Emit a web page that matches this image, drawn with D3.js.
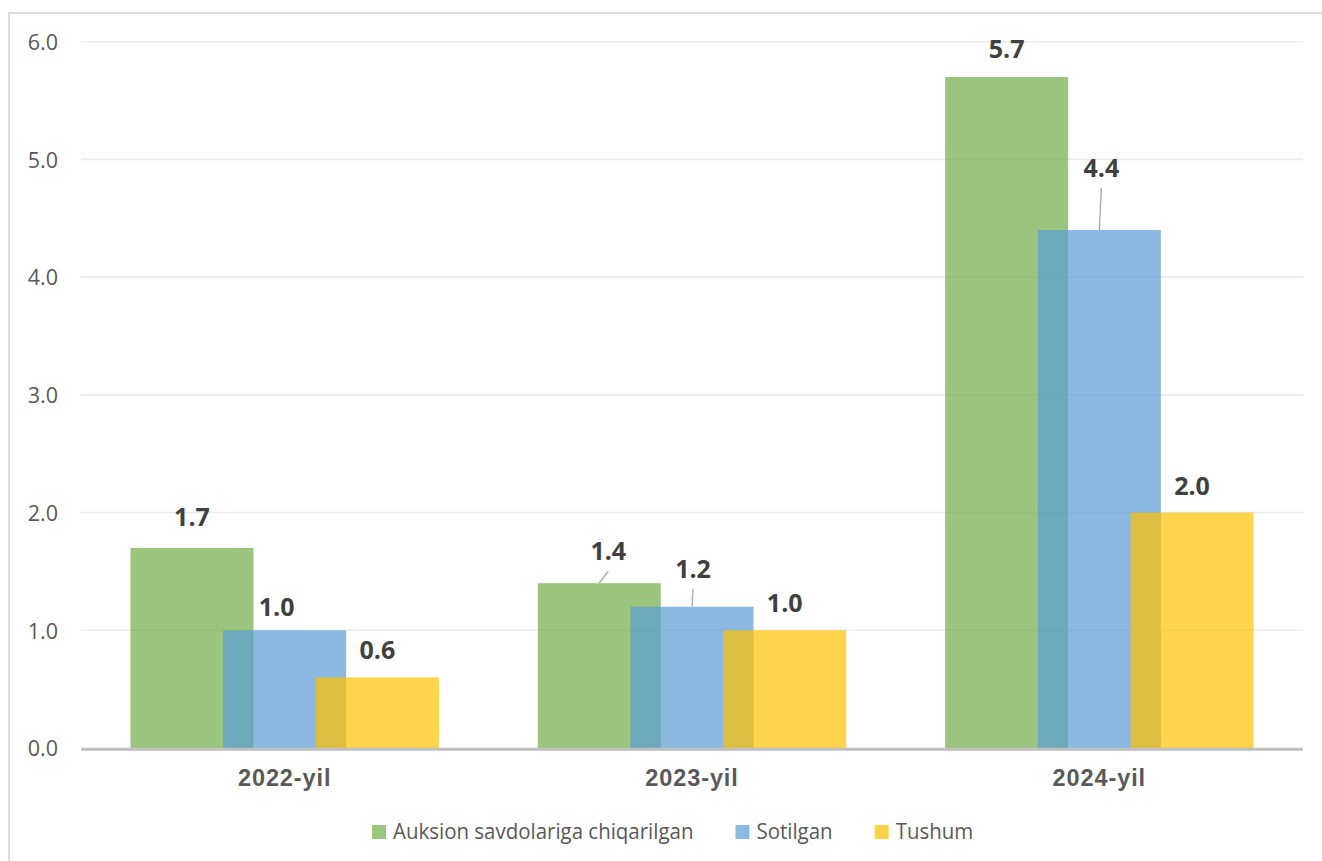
<!DOCTYPE html>
<html>
<head>
<meta charset="utf-8">
<script src="https://cdn.jsdelivr.net/npm/d3@7"></script>
<style>
  body { margin: 0; background: #fff; }
  svg { display: block; }
</style>
</head>
<body>
<svg></svg>
<script>
// data
var years = ["2022-yil", "2023-yil", "2024-yil"];
var seriesNames = ["Auksion savdolariga chiqarilgan", "Sotilgan", "Tushum"];
var auksion = [1.7, 1.4, 5.7];
var sotilgan = [1.0, 1.2, 4.4];
var tushum = [0.6, 1.0, 2.0];
var yTicks = [0, 1, 2, 3, 4, 5, 6];

var seriesValues = [auksion, sotilgan, tushum];
var colors = ["#70AD47", "#5B9BD5", "#FFC000"];

// label nudges [dx, dy, leader]
var labelNudge = [
    [[0, -4, false], [-8, 4, false], [0, 0, false]],
    [[9, -5, true], [1, -11, true], [0, 0, false]],
    [[0, -1, false], [2, -35, true], [0, 0, false]]
];

var W = 1322, H = 861;
var svg = d3.select("svg").attr("width", W).attr("height", H);

// outer chart border
svg.append("rect")
    .attr("x", 9).attr("y", 13)
    .attr("width", 1340).attr("height", 880)
    .style("fill", "none")
    .style("stroke", "#d9d9d9")
    .style("stroke-width", 1.8);

var plotLeft = 81, plotRight = 1303, plotTop = 41.7, plotBottom = 748;

var xScale = d3.scaleBand().domain(years).range([plotLeft, plotRight]).padding(0);
var yScale = d3.scaleLinear().domain([0, 6]).range([plotBottom, plotTop]);

var band = xScale.bandwidth();
var barW = band * 0.302;
var step = band * 0.2276;
var xSeries = d3.scalePoint().domain(seriesNames).range([-step, step]);

// gridlines
svg.append("g")
    .selectAll("line")
    .data(yTicks.filter(function (d) { return d > 0; }))
    .enter()
    .append("line")
    .attr("x1", plotLeft).attr("x2", plotRight)
    .attr("y1", function (d) { return yScale(d); })
    .attr("y2", function (d) { return yScale(d); })
    .style("stroke", "#ebebeb")
    .style("stroke-width", 1.6);

// y axis labels
var yAxis = svg.append("g")
    .attr("transform", "translate(" + 58 + ",0)")
    .call(d3.axisLeft(yScale).tickValues(yTicks).tickFormat(d3.format(".1f")).tickSize(0).tickPadding(0));
yAxis.select(".domain").remove();
yAxis.selectAll("text")
    .attr("dy", "0.36em")
    .style("font-family", "Open Sans")
    .style("font-size", "21.5px")
    .style("fill", "#595959");

// bars
seriesNames.forEach(function (name, s) {
    svg.append("g")
        .selectAll("rect")
        .data(seriesValues[s])
        .enter()
        .append("rect")
        .attr("x", function (d, i) { return xScale(years[i]) + band / 2 + xSeries(name) - barW / 2; })
        .attr("y", function (d) { return yScale(d); })
        .attr("width", barW)
        .attr("height", function (d) { return yScale(0) - yScale(d); })
        .style("fill", colors[s])
        .style("fill-opacity", 0.7);
});

// baseline
svg.append("line")
    .attr("x1", plotLeft).attr("x2", plotRight)
    .attr("y1", yScale(0) + 1.2).attr("y2", yScale(0) + 1.2)
    .style("stroke", "#bfbfbf")
    .style("stroke-width", 3);

// x category labels
var xAxis = svg.append("g")
    .attr("transform", "translate(0," + 786 + ")")
    .call(d3.axisBottom(xScale).tickSize(0).tickPadding(0));
xAxis.select(".domain").remove();
xAxis.selectAll("text")
    .attr("dy", 0)
    .style("font-family", "Liberation Sans, Arial")
    .style("font-weight", "bold")
    .style("font-size", "23.5px")
    .style("letter-spacing", "0.9px")
    .style("fill", "#595959");

// data labels
seriesNames.forEach(function (name, s) {
    seriesValues[s].forEach(function (v, i) {
        var cx = xScale(years[i]) + band / 2 + xSeries(name);
        var nudge = labelNudge[i][s];
        var ty = yScale(v) - 18 + nudge[1];
        var tx = cx + nudge[0];
        if (nudge[2]) {
            svg.append("line")
                .attr("x1", tx).attr("y1", ty + 11)
                .attr("x2", cx).attr("y2", yScale(v))
                .style("stroke", "#a6a6a6")
                .style("stroke-width", 1.3);
        }
        svg.append("text")
            .attr("x", tx)
            .attr("y", ty)
            .attr("text-anchor", "middle")
            .style("font-family", "Open Sans")
            .style("font-weight", "bold")
            .style("font-size", "25px")
            .style("fill", "#404040")
            .text(d3.format(".1f")(v));
    });
});

// legend
var legend = svg.append("g");
var lx = 372;
seriesNames.forEach(function (name, s) {
    var item = legend.append("g").attr("transform", "translate(" + lx + ",0)");
    item.append("rect")
        .attr("x", 0).attr("y", 825)
        .attr("width", 14).attr("height", 14)
        .style("fill", colors[s])
        .style("fill-opacity", 0.7);
    var t = item.append("text")
        .attr("x", 21)
        .attr("y", 839)
        .style("font-family", "Open Sans")
        .style("font-size", "22px")
        .style("fill", "#595959")
        .text(name);
    var w = t.node().getComputedTextLength() * 0.93;
    t.attr("textLength", w).attr("lengthAdjust", "spacingAndGlyphs");
    lx += 21 + w + 42;
});
</script>
</body>
</html>
